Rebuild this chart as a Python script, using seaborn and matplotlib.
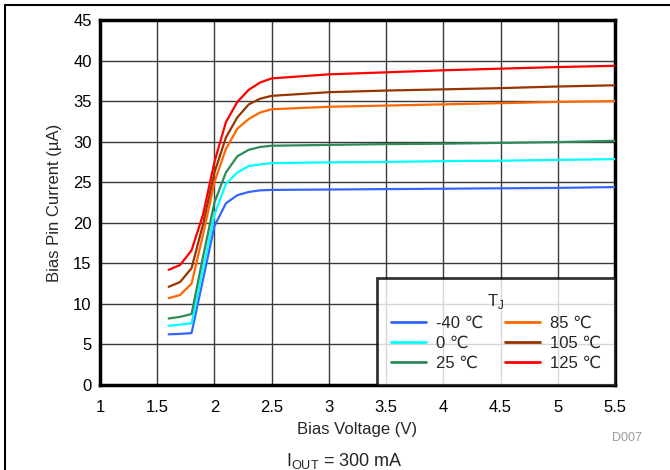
import numpy as np
import pandas as pd
import matplotlib
matplotlib.use("Agg")
import matplotlib.pyplot as plt
import seaborn as sns
from matplotlib.lines import Line2D

# ---- data ----
bias_voltage = [1.6, 1.7, 1.8, 1.9, 2.0, 2.1, 2.2, 2.3, 2.4, 2.5, 3.0, 3.5, 4.0, 4.5, 5.0, 5.5]
temps = ["-40 \u2103", "0 \u2103", "25 \u2103", "85 \u2103", "105 \u2103", "125 \u2103"]
i_m40 = [6.25, 6.3, 6.4, 13.0, 19.6, 22.4, 23.4, 23.8, 24.0, 24.05, 24.1, 24.15, 24.2, 24.25, 24.3, 24.4]
i_0 = [7.3, 7.45, 7.6, 14.3, 21.0, 24.8, 26.2, 27.0, 27.2, 27.35, 27.45, 27.5, 27.6, 27.65, 27.75, 27.85]
i_25 = [8.2, 8.4, 8.75, 15.8, 22.5, 26.2, 28.2, 29.0, 29.35, 29.5, 29.6, 29.7, 29.75, 29.85, 29.95, 30.1]
i_85 = [10.7, 11.1, 12.5, 18.5, 25.0, 29.1, 31.6, 32.8, 33.6, 34.0, 34.3, 34.45, 34.6, 34.75, 34.9, 35.0]
i_105 = [12.1, 12.7, 14.4, 19.8, 26.2, 30.5, 33.0, 34.6, 35.3, 35.65, 36.1, 36.3, 36.45, 36.6, 36.8, 36.95]
i_125 = [14.2, 14.8, 16.6, 21.0, 27.5, 32.4, 34.9, 36.4, 37.3, 37.8, 38.3, 38.55, 38.8, 39.0, 39.2, 39.35]
colors = ["#3366FF", "#00FFFF", "#2E8B57", "#FF6600", "#993300", "#FF0000"]
x_ticks = [1, 1.5, 2, 2.5, 3, 3.5, 4, 4.5, 5, 5.5]
x_tick_labels = ["1", "1.5", "2", "2.5", "3", "3.5", "4", "4.5", "5", "5.5"]
y_ticks = [0, 5, 10, 15, 20, 25, 30, 35, 40, 45]

series = [i_m40, i_0, i_25, i_85, i_105, i_125]
df = pd.concat(
    [pd.DataFrame({"V": bias_voltage, "I": s, "T": t}) for s, t in zip(series, temps)],
    ignore_index=True,
)

sns.set_style("white")
plt.rcParams["font.family"] = ["Liberation Sans", "DejaVu Sans"]

W, H = 670, 470
fig = plt.figure(figsize=(W / 100, H / 100), dpi=100)
ax = fig.add_axes([100 / W, 1 - 385 / H, 515 / W, 365 / H])

palette = dict(zip(temps, colors))
sns.lineplot(data=df, x="V", y="I", hue="T", hue_order=temps, palette=palette,
             linewidth=1.6, ax=ax, legend=False, zorder=3)

ax.set_xlim(1, 5.5)
ax.set_ylim(0, 45)
ax.set_xticks(x_ticks)
ax.set_xticklabels(x_tick_labels)
ax.set_yticks(y_ticks)
ax.grid(True, color="#3a3a3a", linewidth=1.0, zorder=0)
ax.set_axisbelow(True)
ax.tick_params(axis="both", length=0, labelsize=12, colors="black")
ax.tick_params(axis="x", pad=11)
ax.tick_params(axis="y", pad=6)
for sp in ax.spines.values():
    sp.set_visible(True)
    sp.set_color("black")
    sp.set_linewidth(2.5)

ax.set_xlabel("Bias Voltage (V)", fontsize=12, labelpad=5)
ax.set_ylabel("Bias Pin Current (\u00b5A)", fontsize=12, labelpad=8)

handles = [Line2D([0], [0], color=c, linewidth=2) for c in colors]
leg = ax.legend(handles, temps, title="T$_\\mathregular{J}$", ncol=2, loc="lower right",
                bbox_to_anchor=(1, 0), borderaxespad=0, fontsize=12, title_fontsize=12,
                frameon=True, fancybox=False, handlelength=2.1, columnspacing=1.3,
                handletextpad=0.6, labelspacing=0.3, borderpad=0.85)
leg.get_frame().set_edgecolor("black")
leg.get_frame().set_linewidth(2.0)
leg.set_zorder(5)

fig.text(612 / W, 1 - 438 / H, "D007", fontsize=9, color="#999999", ha="left", va="center")
fig.text(344 / W, 1 - 461 / H, "I$_\\mathregular{OUT}$ = 300 mA", fontsize=13,
         ha="center", va="center")

# figure frame (top and left edges)
fig.add_artist(Line2D([5 / W, 1], [1 - 5 / H, 1 - 5 / H], color="black", linewidth=1.5,
                      transform=fig.transFigure))
fig.add_artist(Line2D([5 / W, 5 / W], [0, 1 - 5 / H], color="black", linewidth=1.5,
                      transform=fig.transFigure))

fig.savefig("out.png", dpi=100)
